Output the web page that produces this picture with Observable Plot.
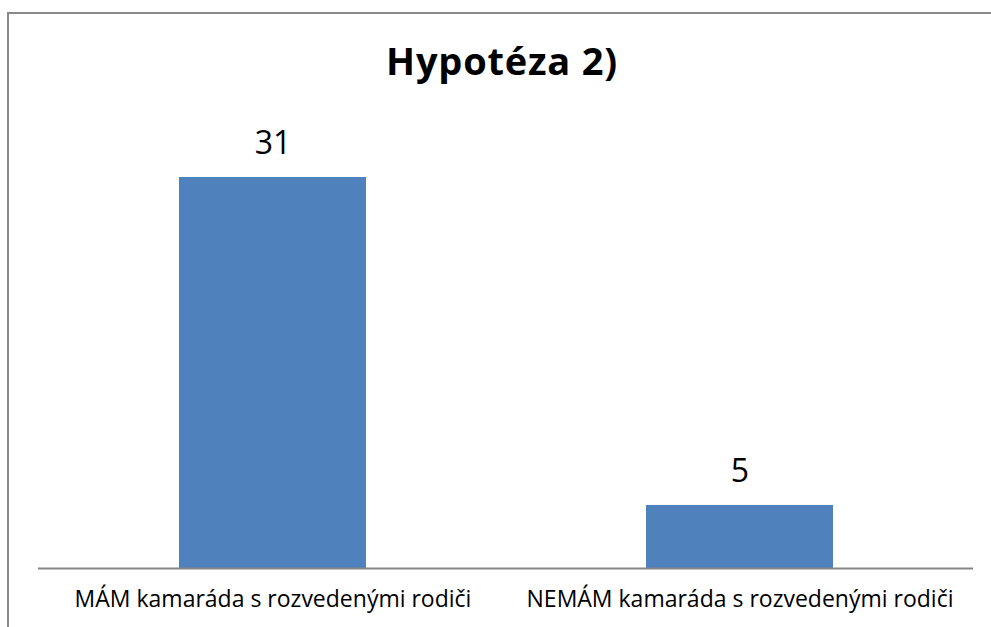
<!DOCTYPE html>
<html>
<head>
<meta charset="utf-8">
<script src="https://cdn.jsdelivr.net/npm/d3@7"></script>
<script src="https://cdn.jsdelivr.net/npm/@observablehq/plot@0.6"></script>
<style>
  html, body { margin: 0; padding: 0; background: #fff; }
  #wrap { position: relative; width: 991px; height: 627px; overflow: hidden; background: #fff; }
  #frame { position: absolute; left: 7px; top: 12px; width: 1100px; height: 800px; border: 2px solid #898989; box-sizing: border-box; }
  #title { position: absolute; left: 0; width: 1004px; top: 38px; text-align: center; font-family: "Open Sans", sans-serif; font-weight: bold; font-size: 38px; letter-spacing: 0.8px; color: #000; line-height: 1.2; }
  #chart { position: absolute; left: 0; top: 0; }
</style>
</head>
<body>
<div id="wrap">
  <div id="frame"></div>
  <div id="chart"></div>
  <div id="title">Hypotéza 2)</div>
</div>
<script>
const categories = ["MÁM kamaráda s rozvedenými rodiči", "NEMÁM kamaráda s rozvedenými rodiči"];
const values = [31, 5];

const data = categories.map((c, i) => ({category: c, value: values[i]}));

const chart = Plot.plot({
  width: 991,
  height: 627,
  marginLeft: 38,
  marginRight: 18,
  marginTop: 177,
  marginBottom: 59,
  style: {background: "transparent", fontFamily: "'Open Sans', sans-serif", color: "#000"},
  x: {domain: categories, paddingInner: 0.6, paddingOuter: 0.3},
  y: {domain: [0, 31], axis: null},
  marks: [
    Plot.barY(data, {x: "category", y: "value", fill: "#4f81bd"}),
    Plot.ruleY([0], {stroke: "#868686", strokeWidth: 2}),
    Plot.text(data, {x: "category", y: "value", text: d => String(d.value), dy: -34, fontSize: 32, fill: "#000"}),
    Plot.axisX({tickSize: 0, tickPadding: 22, fontSize: 23, label: null, fill: "#000"})
  ]
});
document.getElementById("chart").appendChild(chart);
</script>
</body>
</html>
